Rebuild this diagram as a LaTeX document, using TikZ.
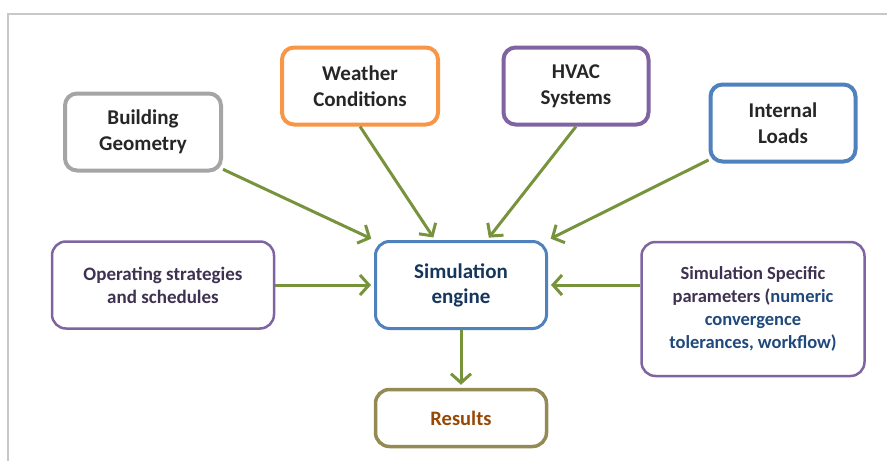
\documentclass[tikz,border=0pt]{standalone}
\usepackage{fontspec}
\setmainfont{Carlito}
\usetikzlibrary{positioning, arrows.meta}

\definecolor{framegray}{HTML}{C8C8C8}
\definecolor{textgray}{HTML}{262626}
\definecolor{geogray}{HTML}{A5A5A5}
\definecolor{weatherorange}{HTML}{F79646}
\definecolor{hvacpurple}{HTML}{8064A2}
\definecolor{loadblue}{HTML}{4F81BD}
\definecolor{opspurple}{HTML}{3F3151}
\definecolor{enginetext}{HTML}{17365D}
\definecolor{paramblue}{HTML}{1F497D}
\definecolor{resultolive}{HTML}{948A54}
\definecolor{resultbrown}{HTML}{984806}
\definecolor{flowgreen}{HTML}{77933C}

\begin{document}
\begin{tikzpicture}[x=1pt, y=-1pt,
    inbox/.style={draw, rounded corners=12pt, align=center, line width=4pt, fill=white, text=textgray, font=\fontsize{21}{26}\selectfont\bfseries},
    midbox/.style={draw, rounded corners=14pt, align=center, line width=2.5pt, fill=white, font=\fontsize{19}{23}\selectfont\bfseries},
    flow/.style={draw=flowgreen, line width=3pt, -{Straight Barb[length=9pt, width=20pt]}, shorten >=3pt}]
  \newcommand\topboxheight{77pt}
  \newcommand\midboxheight{87pt}

  \useasboundingbox (0,0) rectangle (887,461);
  \draw[framegray, line width=2pt] (8,461) -- (8,14) -- (887,14);

  % inputs on top
  \node[inbox, draw=geogray, minimum width=156pt, minimum height=\topboxheight] at (143,132) (geometry) {Building\\Geometry};
  \node[inbox, draw=weatherorange, minimum width=156pt, minimum height=\topboxheight] at (360,86) (weather) {Weather\\Conditions};
  \node[inbox, draw=hvacpurple, minimum width=145pt, minimum height=\topboxheight] at (576,86) (hvac) {HVAC\\Systems};
  \node[inbox, draw=loadblue, minimum width=145pt, minimum height=\topboxheight] at (783,123) (loads) {Internal\\Loads};

  % middle row
  \node[midbox, draw=hvacpurple, text=opspurple, minimum width=222pt, minimum height=\midboxheight] at (163,285) (ops) {Operating strategies\\and schedules};
  \node[midbox, draw=loadblue, line width=3pt, text=enginetext, font=\fontsize{21}{25}\selectfont\bfseries, minimum width=171pt, minimum height=\midboxheight] at (461,285) (engine) {Simulation\\engine};
  \node[midbox, draw=hvacpurple, text=opspurple, font=\fontsize{18.5}{23}\selectfont\bfseries, minimum width=223pt, minimum height=134pt] at (753,309) (params) {Simulation Specific\\parameters (\textcolor{paramblue}{numeric}\\\textcolor{paramblue}{convergence}\\\textcolor{paramblue}{tolerances, workflow)}};

  \node[midbox, draw=resultolive, line width=3.5pt, text=resultbrown, font=\fontsize{20.5}{25}\selectfont\bfseries, minimum width=171pt, minimum height=57pt] at (461,418) (results) {Results};

  \foreach \from/\to in {geometry/engine.north west, weather.south/engine.120, hvac.south/engine.60, loads/engine.north east, ops/engine, params.west |- engine.east/engine.east, engine/results}
    \draw[flow] (\from) -- (\to);
\end{tikzpicture}
\end{document}
